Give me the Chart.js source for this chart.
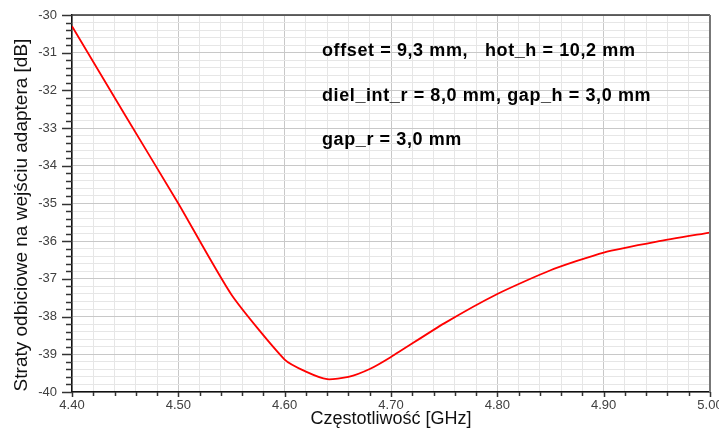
<!DOCTYPE html>
<html>
<head>
<meta charset="utf-8">
<script src="https://cdn.jsdelivr.net/npm/chart.js@4/dist/chart.umd.min.js"></script>
<style>
  html, body { margin: 0; padding: 0; background: #ffffff; }
  #wrap { width: 719px; height: 428px; position: relative; }
</style>
</head>
<body>
<div id="wrap"><canvas id="c" width="719" height="428"></canvas></div>
<script>
// ---- data ----
const freqGHz = [4.40, 4.45, 4.50, 4.55, 4.60, 4.62, 4.64, 4.66, 4.68, 4.70, 4.75, 4.80, 4.85, 4.90, 4.95, 5.00];
const lossDB  = [-30.30, -32.66, -35.00, -37.42, -39.14, -39.46, -39.66, -39.60, -39.39, -39.07, -38.18, -37.40, -36.77, -36.30, -36.01, -35.77];

const xMin = 4.40, xMax = 5.00, xMinorStep = 0.02, xMajorStep = 0.1;
const yMin = -40, yMax = -30, yMinorStep = 0.2, yMajorStep = 1;

const xTitle = 'Częstotliwość [GHz]';
const yTitle = 'Straty odbiciowe na wejściu adaptera [dB]';
const annotationLines = [
  'offset = 9,3 mm,   hot_h = 10,2 mm',
  'diel_int_r = 8,0 mm, gap_h = 3,0 mm',
  'gap_r = 3,0 mm'
];

const FONT = '"Liberation Sans", Arial, sans-serif';

function isMajor(v, step) {
  const r = v / step;
  return Math.abs(r - Math.round(r)) < 1e-6;
}

const points = freqGHz.map((f, i) => ({ x: f, y: lossDB[i] }));

const decorPlugin = {
  id: 'decor',
  afterDraw(chart) {
    const ctx = chart.ctx;
    const a = chart.chartArea;
    const xs = chart.scales.x, ys = chart.scales.y;
    ctx.save();
    // tick marks on y axis (outside, left)
    ctx.strokeStyle = '#333333';
    ctx.lineWidth = 1.5;
    ys.ticks.forEach(t => {
      const p = Math.round(ys.getPixelForValue(t.value)) + 0.5;
      const len = isMajor(t.value, yMajorStep) ? 10 : 6;
      ctx.beginPath();
      ctx.moveTo(a.left - len, p);
      ctx.lineTo(a.left, p);
      ctx.stroke();
    });
    // tick marks on x axis (outside, below)
    xs.ticks.forEach(t => {
      const p = Math.round(xs.getPixelForValue(t.value)) + 0.5;
      const len = isMajor(t.value, xMajorStep) ? 5 : 4;
      ctx.beginPath();
      ctx.moveTo(p, a.bottom);
      ctx.lineTo(p, a.bottom + len);
      ctx.stroke();
    });
    // top and right frame
    ctx.strokeStyle = '#333333';
    ctx.lineWidth = 1.5;
    ctx.beginPath();
    ctx.moveTo(a.left, a.top);
    ctx.lineTo(a.right, a.top);
    ctx.stroke();
    ctx.strokeStyle = '#777777';
    ctx.lineWidth = 2;
    ctx.beginPath();
    ctx.moveTo(a.right, a.top);
    ctx.lineTo(a.right, a.bottom);
    ctx.stroke();

    // axis titles
    ctx.fillStyle = '#111111';
    ctx.textBaseline = 'alphabetic';
    ctx.textAlign = 'center';
    ctx.font = '18px ' + FONT;
    ctx.fillText(xTitle, (a.left + a.right) / 2, 424);
    ctx.save();
    ctx.translate(27, 215);
    ctx.rotate(-Math.PI / 2);
    ctx.font = '19px ' + FONT;
    ctx.fillText(yTitle, 0, 0);
    ctx.restore();

    // annotation text
    ctx.fillStyle = '#000000';
    ctx.font = 'bold 18px ' + FONT;
    if ('letterSpacing' in ctx) ctx.letterSpacing = '0.6px';
    ctx.textAlign = 'left';
    ctx.textBaseline = 'alphabetic';
    const x0 = a.left + 250;
    const baselines = [a.top + 41, a.top + 86, a.top + 130];
    annotationLines.forEach((s, i) => ctx.fillText(s, x0, baselines[i]));
    ctx.restore();
  }
};

new Chart(document.getElementById('c'), {
  type: 'scatter',
  data: {
    datasets: [{
      data: points,
      showLine: true,
      borderColor: '#ff0000',
      backgroundColor: '#ff0000',
      borderWidth: 1.8,
      pointRadius: 0,
      pointHoverRadius: 0,
      tension: 0.2,
      fill: false
    }]
  },
  options: {
    responsive: false,
    animation: false,
    events: [],
    layout: { padding: { top: 15, right: 9, left: 0, bottom: 0 } },
    plugins: { legend: { display: false }, tooltip: { enabled: false } },
    scales: {
      x: {
        type: 'linear',
        min: xMin, max: xMax,
        afterBuildTicks(scale) {
          const t = [];
          const n = Math.round((xMax - xMin) / xMinorStep);
          for (let i = 0; i <= n; i++) t.push({ value: +(xMin + i * xMinorStep).toFixed(4) });
          scale.ticks = t;
        },
        afterFit(scale) { scale.height = 36; scale.paddingLeft = 0; scale.paddingRight = 0; },
        grid: {
          drawTicks: false,
          color: c => isMajor(c.tick.value, xMajorStep) ? '#c8c8c8' : '#e6e6e6',
          lineWidth: 1
        },
        border: { display: true, color: '#111111', width: 1.5 },
        ticks: {
          autoSkip: false,
          maxRotation: 0,
          padding: 6,
          color: '#404040',
          font: { family: FONT, size: 13 },
          callback: v => isMajor(v, xMajorStep) ? v.toFixed(2) : ''
        },
        title: { display: false }
      },
      y: {
        type: 'linear',
        min: yMin, max: yMax,
        afterBuildTicks(scale) {
          const t = [];
          const n = Math.round((yMax - yMin) / yMinorStep);
          for (let i = 0; i <= n; i++) t.push({ value: +(yMin + i * yMinorStep).toFixed(4) });
          scale.ticks = t;
        },
        afterFit(scale) { scale.width = 72; scale.paddingTop = 0; scale.paddingBottom = 0; },
        grid: {
          drawTicks: false,
          color: c => isMajor(c.tick.value, yMajorStep) ? '#c8c8c8' : '#e6e6e6',
          lineWidth: 1
        },
        border: { display: true, color: '#111111', width: 1.5 },
        ticks: {
          autoSkip: false,
          padding: 15,
          color: '#404040',
          font: { family: FONT, size: 13 },
          callback: v => isMajor(v, yMajorStep) ? String(Math.round(v)) : ''
        },
        title: { display: false }
      }
    }
  },
  plugins: [decorPlugin]
});
</script>
</body>
</html>
